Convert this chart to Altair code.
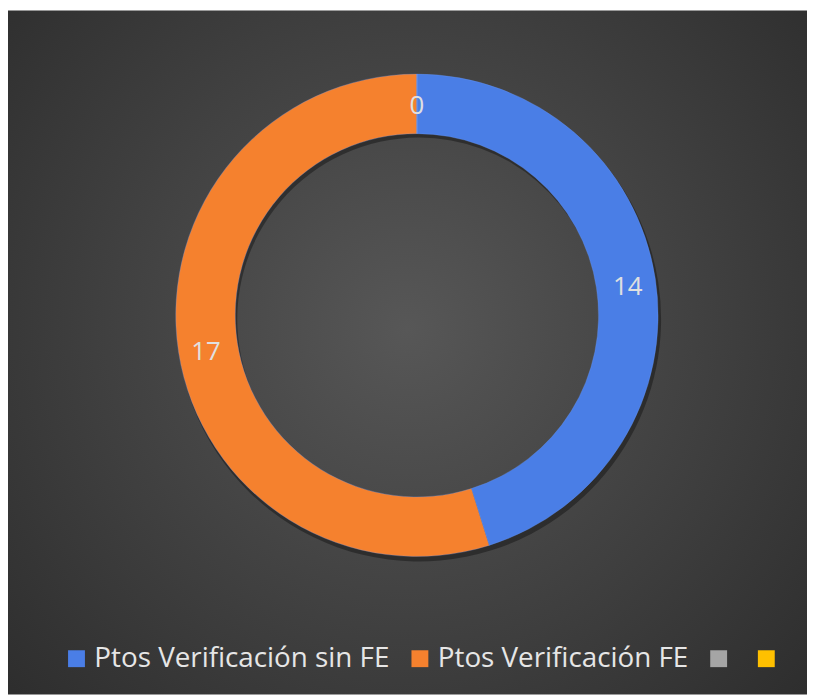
import altair as alt
import pandas as pd

categories = ["Ptos Verificación sin FE", "Ptos Verificación FE", " ", "  "]
values = [14, 17, 0, 0]
label_texts = ["14", "17", "0", ""]
colors = ["#4a7ee6", "#f5812e", "#a5a5a5", "#ffc000"]
order_idx = [0, 1, 2, 3]

df = pd.DataFrame({"cat": categories, "val": values, "lab": label_texts, "idx": order_idx})

W, H = 805, 689
CX, CY = 412, 307

bg = alt.Chart(pd.DataFrame({"k": [0]})).mark_rect(
    color=alt.RadialGradient(
        gradient="radial", x1=0.5, y1=0.47, r1=0, x2=0.5, y2=0.47, r2=0.72,
        stops=[alt.GradientStop(color="#575757", offset=0),
               alt.GradientStop(color="#2b2b2b", offset=1)],
    )
).encode(x=alt.value(0), x2=alt.value(W), y=alt.value(0), y2=alt.value(H))

base = alt.Chart(df).encode(
    theta=alt.Theta("val:Q", stack=True),
    order=alt.Order("idx:Q", sort="ascending"),
    detail=alt.Detail("cat:N"),
)

shadow = base.mark_arc(innerRadius=183, outerRadius=244, color="black", opacity=0.35).encode(
    x=alt.value(CX + 2), y=alt.value(CY + 4)
)

arcs = base.mark_arc(innerRadius=183, outerRadius=243, stroke="#6f9af0", strokeWidth=0.6, strokeOpacity=0.5).encode(
    x=alt.value(CX), y=alt.value(CY),
    color=alt.Color(
        "cat:N",
        scale=alt.Scale(domain=categories, range=colors),
        sort=categories,
        legend=alt.Legend(
            orient="none", legendX=55, legendY=639, direction="horizontal", columns=4,
            title=None, symbolType="square", symbolSize=289, symbolStrokeWidth=0,
            labelFont="Open Sans", labelFontSize=28, labelColor="#e6e6e6",
            labelOffset=4, columnPadding=16, labelLimit=400,
        ),
    ),
)

text = base.mark_text(radius=215, font="Open Sans", fontSize=26, color="#e0e0e0", dy=4).encode(
    text="lab:N", x=alt.value(CX), y=alt.value(CY)
)

chart = alt.layer(bg, shadow, arcs, text).properties(
    width=W, height=H, padding=0, autosize=alt.AutoSizeParams(type="none")
).configure_view(strokeWidth=0)

chart.save("out.html", embed_options={"renderer": "svg", "actions": False})
